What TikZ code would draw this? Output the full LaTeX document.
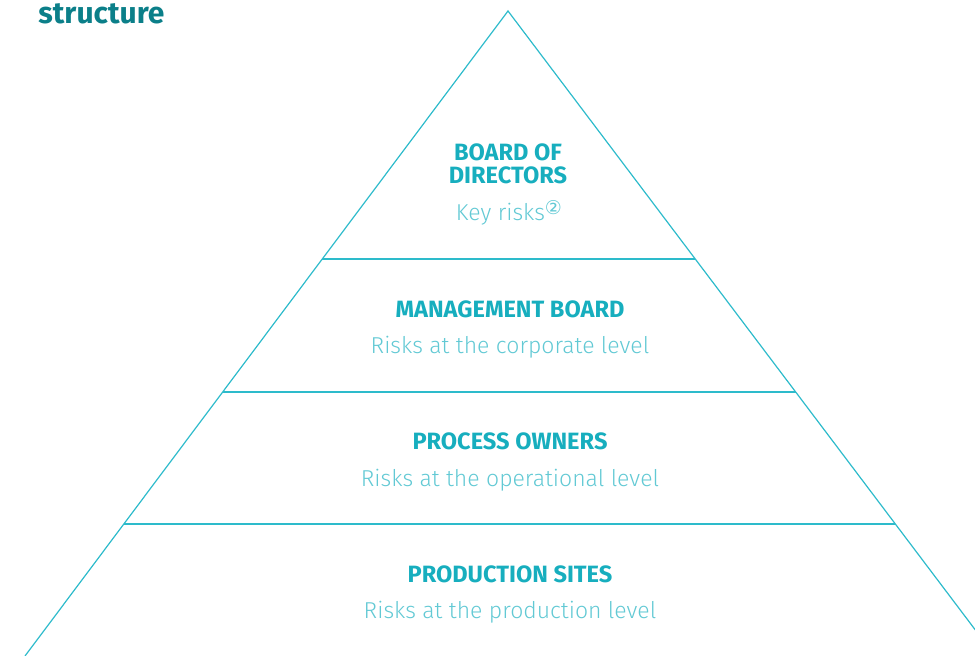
\documentclass[tikz,border=0pt]{standalone}
\usepackage{fontspec}
\setmainfont{Fira Sans}
\newfontfamily\lightfont{Fira Sans Light}
\newfontfamily\symfont{DejaVu Sans}
\usetikzlibrary{calc}
\definecolor{lineblue}{HTML}{2DBBCB}
\definecolor{headblue}{HTML}{17AEBE}
\definecolor{subblue}{HTML}{62C9D4}
\definecolor{titleteal}{HTML}{0B7F89}
\begin{document}
\begin{tikzpicture}[
    x=0.5pt, y=-0.5pt,
    edge/.style={draw=lineblue, line width=0.6pt},
    headtext/.style={text=headblue, font=\fontsize{11.8}{11.6}\selectfont\bfseries, align=center, inner sep=0pt},
    subtext/.style={text=subblue, font=\fontsize{11.5}{12}\selectfont\lightfont, inner sep=0pt}
]
    \useasboundingbox (0,0) rectangle (975,656);
    \clip (0,0) rectangle (975,656);

    % --- Pyramid ---
    \coordinate (apex) at (508,11);
    \coordinate (baseL) at (25,656);
    \coordinate (baseR) at (995,656);

    \draw[edge] (baseL) -- (apex) -- (baseR);

    \coordinate (l1) at ($(apex)!0.3845!(baseL)$);
    \coordinate (r1) at ($(apex)!0.3845!(baseR)$);
    \coordinate (l2) at ($(apex)!0.5907!(baseL)$);
    \coordinate (r2) at ($(apex)!0.5907!(baseR)$);
    \coordinate (l3) at ($(apex)!0.7953!(baseL)$);
    \coordinate (r3) at ($(apex)!0.7953!(baseR)$);

    \draw[edge] (l1) -- (r1);
    \draw[edge] (l2) -- (r2);
    \draw[edge] (l3) -- (r3);

    % --- Title ---
    \node[anchor=base west, inner sep=0pt, text=titleteal,
          font=\fontsize{15}{15}\selectfont\bfseries] (title) at (38,24) {structure};

    % --- Levels ---
    \node[headtext] (board) at (508,164) {BOARD OF\\DIRECTORS};
    \node[subtext] (boardsub) at (509,213) {Key risks\raisebox{0.45ex}{\symfont\fontsize{9.5}{9.5}\selectfont ②}};

    \node[headtext] (mgmt) at (510,309) {MANAGEMENT BOARD};
    \node[subtext] (mgmtsub) at (510,347) {Risks at the corporate level};

    \node[headtext] (owners) at (510,441) {PROCESS OWNERS};
    \node[subtext] (ownerssub) at (510,480) {Risks at the operational level};

    \node[headtext] (sites) at (510,574) {PRODUCTION SITES};
    \node[subtext] (sitessub) at (510,612) {Risks at the production level};

\end{tikzpicture}
\end{document}
